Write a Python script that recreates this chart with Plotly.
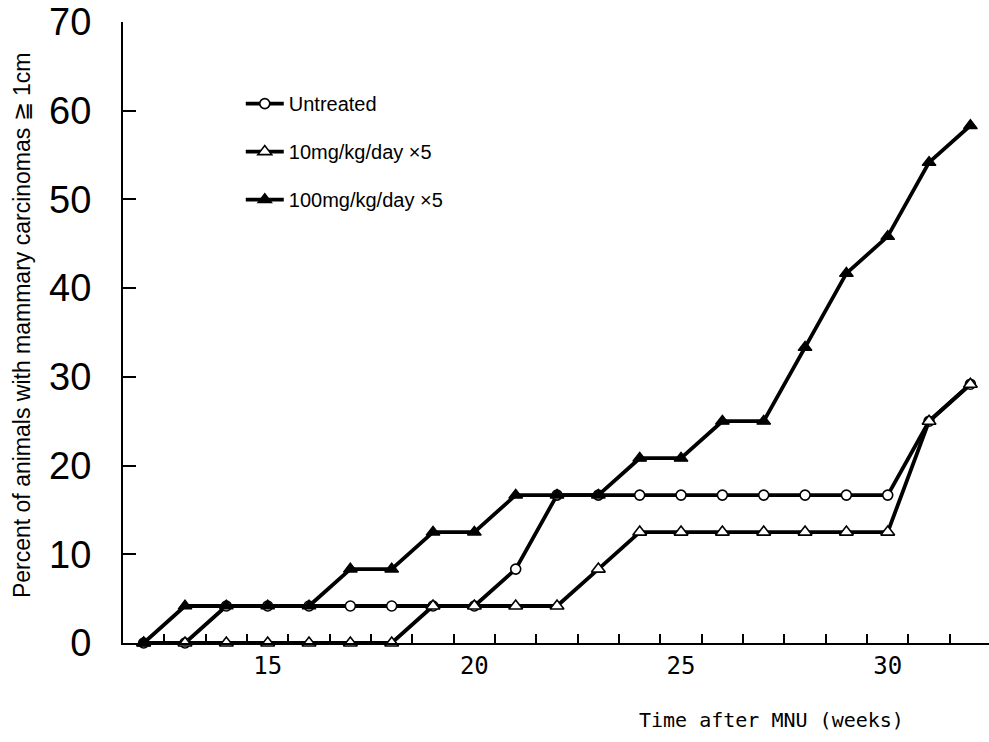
import numpy as np
import plotly.graph_objects as go

weeks = list(range(12, 33))
untreated = [0, 0, 4.17, 4.17, 4.17, 4.17, 4.17, 4.17, 4.17, 8.33, 16.67,
             16.67, 16.67, 16.67, 16.67, 16.67, 16.67, 16.67, 16.67, 25.0, 29.17]
dose10 = [0, 0, 0, 0, 0, 0, 0, 4.17, 4.17, 4.17, 4.17,
          8.33, 12.5, 12.5, 12.5, 12.5, 12.5, 12.5, 12.5, 25.0, 29.17]
dose100 = [0, 4.17, 4.17, 4.17, 4.17, 8.33, 8.33, 12.5, 12.5, 16.67, 16.67,
           16.67, 20.83, 20.83, 25.0, 25.0, 33.33, 41.67, 45.83, 54.17, 58.33]
series_names = ["Untreated", "10mg/kg/day ×5", "100mg/kg/day ×5"]
x_ticklabels = ["15", "20", "25", "30"]
y_ticks = [0, 10, 20, 30, 40, 50, 60, 70]

fig = go.Figure()
styles = [
    dict(symbol="circle", size=10, color="white", line=dict(color="black", width=1.6)),
    dict(symbol="triangle-up", size=12, color="white", line=dict(color="black", width=1.6)),
    dict(symbol="triangle-up", size=12, color="black", line=dict(color="black", width=1.2)),
]
for name, ys, mk in zip(series_names, [untreated, dose10, dose100], styles):
    fig.add_trace(go.Scatter(
        x=weeks, y=ys, name=name, mode="lines+markers",
        line=dict(color="black", width=3.8), marker=mk,
        cliponaxis=False, legendgroup=name,
    ))

fig.update_layout(
    width=989, height=742,
    margin=dict(l=123, r=0, t=22, b=99),
    paper_bgcolor="white", plot_bgcolor="white",
    font=dict(family="Liberation Sans, Arial, sans-serif", color="black"),
    showlegend=True,
    legend=dict(
        x=0.136, y=0.9, xanchor="left", yanchor="top",
        font=dict(size=20, family="Liberation Sans, Arial, sans-serif"),
        bgcolor="rgba(0,0,0,0)", tracegroupgap=19, itemwidth=38,
    ),
    xaxis=dict(
        range=[11.5, 32.45],
        tickvals=[int(t) for t in x_ticklabels], ticktext=x_ticklabels,
        ticks="", showgrid=False, zeroline=False,
        showline=True, linewidth=2, linecolor="black",
        tickfont=dict(family="DejaVu Sans Mono, monospace", size=24),
        minor=dict(tickvals=list(np.arange(12.5, 32, 1.0)), ticks="inside",
                   ticklen=9, tickwidth=2, tickcolor="black", showgrid=False),
    ),
    yaxis=dict(
        range=[0, 70], tickvals=y_ticks,
        ticks="inside", ticklen=13, tickwidth=2, tickcolor="black",
        showgrid=False, zeroline=False,
        showline=True, linewidth=2, linecolor="black",
        tickfont=dict(family="Liberation Sans, Arial, sans-serif", size=38),
        ticklabelstandoff=22,
    ),
    annotations=[
        dict(text="Percent of animals with mammary carcinomas ≧ 1cm",
             xref="paper", yref="paper", x=-0.1166, y=0.512,
             xanchor="center", yanchor="middle", textangle=-90, showarrow=False,
             font=dict(size=23, family="Liberation Sans, Arial, sans-serif")),
        dict(text="Time after MNU (weeks)",
             xref="paper", yref="paper", x=0.749, y=-0.124,
             xanchor="center", yanchor="middle", showarrow=False,
             font=dict(size=20, family="DejaVu Sans Mono, monospace")),
    ],
)

fig.write_html("out.html")
